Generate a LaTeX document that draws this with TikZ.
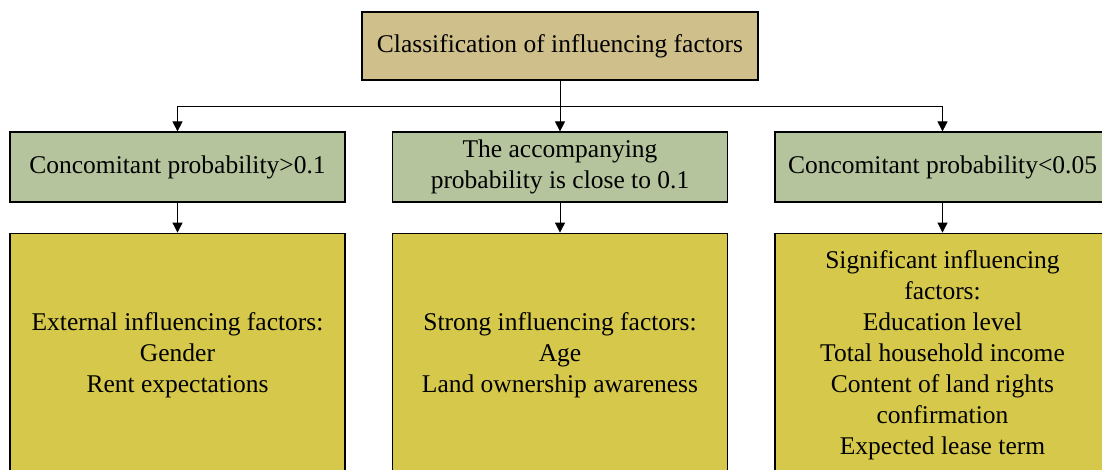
\documentclass[tikz,border=0pt]{standalone}
\usepackage{fontspec}
\setmainfont{Liberation Serif}
\usetikzlibrary{arrows.meta,positioning}

\definecolor{topfill}{HTML}{CFBF8B}
\definecolor{midfill}{HTML}{B5C49C}
\definecolor{lowfill}{HTML}{D5C84B}

\begin{document}
\begin{tikzpicture}[x=1pt, y=-1pt, node distance=30pt,
  box/.style={shape=rectangle, draw, line width=1.2pt, align=center,
    font=\rmfamily\fontsize{25.5}{31}\selectfont, inner sep=0pt},
  headbox/.style={box, fill=topfill, minimum width=396pt, minimum height=68pt},
  condbox/.style={box, fill=midfill, minimum width=335pt, minimum height=70pt},
  factbox/.style={box, fill=lowfill, minimum width=335pt, minimum height=244pt},
  link/.style={-{Triangle[length=10pt,width=10pt]}, line width=0.8pt}]
\useasboundingbox (0,0) rectangle (1102,469);
\clip (0,0) rectangle (1102,469);

\node [headbox] (head) at (560,46) {Classification of influencing factors};
\node [condbox] (C1) at (177.5,167) {Concomitant probability>0.1};
\node [condbox] (C2) at (560,167) {The accompanying\\probability is close to 0.1};
\node [condbox] (C3) at (942.5,167) {Concomitant probability<0.05};

\node [factbox, below=30pt of C1] (F1) {External influencing factors:\\Gender\\Rent expectations};
\node [factbox, below=30pt of C2] (F2) {Strong influencing factors:\\Age\\Land ownership awareness};
\node [factbox, below=30pt of C3] (F3) {Significant influencing\\factors:\\Education level\\Total household income\\Content of land rights\\confirmation\\Expected lease term};

\coordinate (split) at (560,106);
\draw[link] (head) -- (C2);
\draw[link] (split) -| (C1);
\draw[link] (split) -| (C3);

\draw[link] (C1) -- (F1);
\draw[link] (C2) -- (F2);
\draw[link] (C3) -- (F3);
\end{tikzpicture}
\end{document}
